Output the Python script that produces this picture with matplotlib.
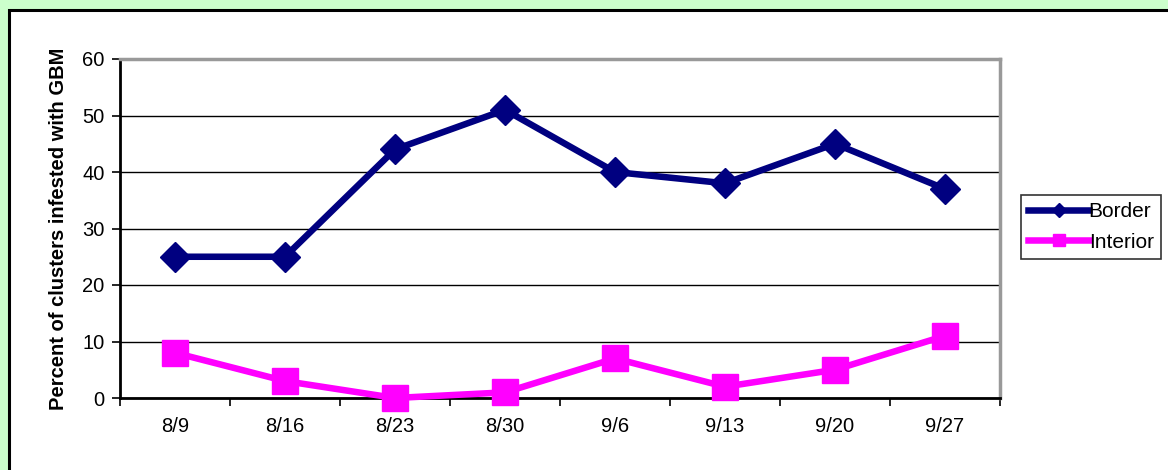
import matplotlib.pyplot as plt
from matplotlib.patches import Rectangle

# chart values
dates = ['8/9', '8/16', '8/23', '8/30', '9/6', '9/13', '9/20', '9/27']
border = [25, 25, 44, 51, 40, 38, 45, 37]
interior = [8, 3, 0, 1, 7, 2, 5, 11]
y_ticks = [0, 10, 20, 30, 40, 50, 60]

plt.rcParams['font.family'] = ['Liberation Sans', 'DejaVu Sans']

W, H = 1168, 470
fig = plt.figure(figsize=(W / 100, H / 100), dpi=100)
fig.patch.set_facecolor('#ccffcc')

# white chart box with black border (runs off the right and bottom edges)
box = Rectangle((9 / W, -0.05), 1.1, 1 - 10 / H + 0.05, transform=fig.transFigure,
                facecolor='white', edgecolor='black', linewidth=2.2, zorder=-10)
fig.patches.append(box)

ax = fig.add_axes([120 / W, (H - 398) / H, 880 / W, 339 / H])
ax.set_facecolor('white')

x = range(len(dates))
ax.plot(x, border, color='#000080', linewidth=4.7, marker='D', markersize=15,
        label='Border', zorder=3, clip_on=False)
ax.plot(x, interior, color='#ff00ff', linewidth=4.7, marker='s', markersize=18.5,
        label='Interior', zorder=3, clip_on=False)

ax.set_xlim(-0.5, len(dates) - 0.5)
ax.set_ylim(0, 60)
ax.set_yticks(y_ticks)
ax.set_xticks(x)
ax.set_xticklabels(dates)
ax.set_xticks([i - 0.5 for i in range(len(dates) + 1)], minor=True)
ax.tick_params(axis='x', which='major', length=0, pad=14, labelsize=14.5)
ax.tick_params(axis='x', which='minor', length=6, width=1.2, direction='out')
ax.tick_params(axis='y', length=6, width=1.2, direction='out', pad=5, labelsize=14.5)

ax.grid(axis='y', color='black', linewidth=1)
ax.set_axisbelow(True)
for side in ['left', 'bottom']:
    ax.spines[side].set_color('black')
    ax.spines[side].set_linewidth(2)
for side in ['top', 'right']:
    ax.spines[side].set_color('#999999')
    ax.spines[side].set_linewidth(2.5)

ax.set_ylabel('Percent of clusters infested with GBM', fontweight='bold',
              fontsize=14.5, labelpad=10)

leg = ax.legend(loc='upper left', bbox_to_anchor=((1021 - 120) / 880, (398 - 195) / 339),
                frameon=True, fancybox=False, edgecolor='black', fontsize=15,
                handlelength=2.9, handletextpad=0.0, borderpad=0.35,
                labelspacing=0.55, borderaxespad=0, markerscale=0.5)
leg.get_frame().set_linewidth(1.2)

fig.savefig('out.png', dpi=100, facecolor=fig.get_facecolor())
